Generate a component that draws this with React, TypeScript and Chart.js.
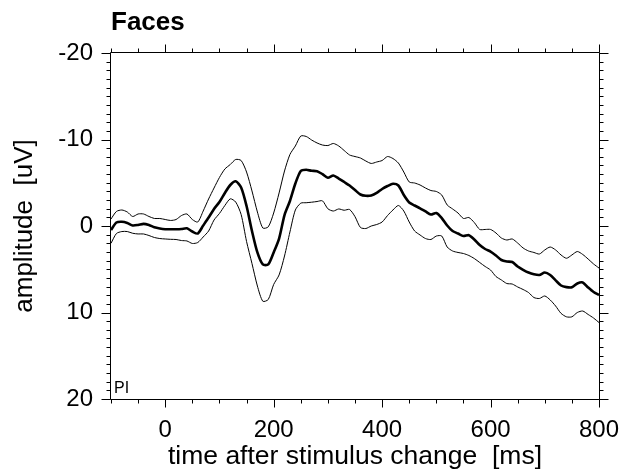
import React, { useEffect, useRef } from "react";
import { Chart, registerables } from "chart.js";

Chart.register(...registerables);

// time after stimulus change [ms]
const times = [
  -100, -90, -80, -70, -60, -50, -40, -30, -20, -10,
  0, 10, 20, 30, 40, 50, 60, 70, 80, 90,
  100, 110, 120, 130, 140, 150, 160, 170, 180, 190,
  200, 210, 220, 230, 240, 250, 260, 270, 280, 290,
  300, 310, 320, 330, 340, 350, 360, 370, 380, 390,
  400, 410, 420, 430, 440, 450, 460, 470, 480, 490,
  500, 510, 520, 530, 540, 550, 560, 570, 580, 590,
  600, 610, 620, 630, 640, 650, 660, 670, 680, 690,
  700, 710, 720, 730, 740, 750, 760, 770, 780, 790,
  800,
];

// grand mean amplitude [uV]
const meanValues = [
  0.46, -0.4, -0.49, -0.35, -0.06, -0.12, -0.25, -0.12, 0.15, 0.29,
  0.37, 0.38, 0.38, 0.35, 0.27, 0.64, 0.87, -0.05, -0.98, -1.97,
  -2.77, -3.82, -4.74, -5.17, -4.45, -2.31, 0.58, 3.06, 4.45, 4.45,
  3.06, 1.45, -1.27, -2.89, -4.91, -6.36, -6.5, -6.38, -6.34, -6.0,
  -5.58, -5.84, -5.49, -5.09, -4.68, -4.16, -3.64, -3.49, -3.53, -3.82,
  -4.28, -4.62, -4.88, -4.68, -3.58, -2.72, -2.37, -2.05, -1.68, -1.33,
  -1.5, -0.92, -0.06, 0.58, 0.87, 1.16, 1.06, 1.56, 2.2, 2.66,
  2.95, 3.41, 3.93, 4.1, 4.16, 4.68, 5.06, 5.38, 5.58, 5.66,
  5.38, 5.66, 6.28, 6.88, 7.07, 7.09, 6.65, 6.53, 7.11, 7.63,
  7.98,
];

// upper (more negative) confidence bound [uV]
const upperValues = [
  -0.81, -1.68, -1.85, -1.62, -1.1, -1.39, -1.39, -1.1, -0.87, -0.87,
  -0.75, -0.64, -0.75, -1.21, -1.39, -0.75, -0.46, -1.73, -3.12, -4.39,
  -5.61, -6.59, -7.11, -7.69, -7.57, -6.24, -4.05, -1.62, 0.23, 0.1,
  -1.5, -3.82, -6.36, -8.27, -9.25, -10.4, -10.35, -9.94, -9.6, -9.36,
  -9.3, -9.54, -9.25, -8.73, -8.21, -8.03, -7.86, -7.51, -7.23, -7.4,
  -7.57, -8.03, -7.8, -7.28, -6.24, -5.09, -4.97, -4.74, -4.39, -4.1,
  -3.99, -3.58, -2.43, -1.97, -1.5, -0.87, -0.98, -0.4, 0.4, 0.4,
  0.4, 0.81, 1.39, 1.62, 1.5, 1.97, 2.54, 2.89, 3.06, 3.24,
  2.77, 2.43, 2.77, 3.35, 3.73, 3.35, 2.95, 3.29, 3.82, 4.39,
  4.86,
];

// lower (more positive) confidence bound [uV]
const lowerValues = [
  2.0, 0.87, 0.64, 0.64, 0.84, 0.92, 0.92, 1.1, 1.33, 1.45,
  1.5, 1.54, 1.56, 1.68, 1.73, 2.02, 1.91, 1.27, 0.58, -0.69,
  -1.45, -2.37, -3.14, -2.77, -1.33, 1.79, 4.34, 6.94, 8.7, 8.5,
  6.76, 5.66, 3.47, 0.69, -1.85, -2.64, -2.69, -2.75, -2.83, -2.91,
  -1.99, -1.73, -1.97, -1.82, -1.91, -1.08, 0.17, 0.29, 0.0, -0.17,
  -0.46, -1.21, -1.85, -2.37, -1.73, -0.46, 0.58, 1.04, 1.45, 1.56,
  1.16, 1.16, 2.43, 2.89, 3.06, 3.18, 3.41, 3.76, 4.22, 4.68,
  5.09, 5.84, 6.24, 6.65, 6.71, 7.05, 7.34, 7.69, 8.27, 8.38,
  8.09, 8.55, 9.25, 10.1, 10.5, 10.5, 10.0, 9.83, 10.23, 10.64,
  11.16,
];

const xTickValues = [0, 200, 400, 600, 800];
const yTickValues = [-20, -10, 0, 10, 20];
const xMinorTicks = [
  -100, -50, 0, 50, 100, 150, 200, 250, 300, 350, 400, 450, 500, 550, 600, 650, 700, 750, 800,
];
const yMinorTicks = [
  -20, -19, -18, -17, -16, -15, -14, -13, -12, -11, -10, -9, -8, -7, -6, -5, -4, -3, -2, -1,
  0, 1, 2, 3, 4, 5, 6, 7, 8, 9, 10, 11, 12, 13, 14, 15, 16, 17, 18, 19, 20,
];

const FONT = "Arial, 'Liberation Sans', sans-serif";

const framePlugin = {
  id: "frameTicks",
  afterDraw(chart: any) {
    const { ctx, chartArea: a, scales } = chart;
    const x = scales.x;
    const y = scales.y;
    ctx.save();
    ctx.strokeStyle = "#000";
    ctx.lineWidth = 1;
    ctx.beginPath();
    const L = Math.round(a.left) - 0.5;
    const R = Math.round(a.right) + 0.5;
    const T = Math.round(a.top) - 0.5;
    const B = Math.round(a.bottom) + 0.5;
    ctx.rect(L, T, R - L, B - T);
    const major = 8;
    const minor = 4;
    for (const v of xMinorTicks) {
      const px = Math.round(x.getPixelForValue(v)) + 0.5;
      const len = xTickValues.includes(v) ? major : minor;
      ctx.moveTo(px, B);
      ctx.lineTo(px, B + len);
      ctx.moveTo(px, T);
      ctx.lineTo(px, T - len);
    }
    for (const v of yMinorTicks) {
      const py = Math.round(y.getPixelForValue(v)) + 0.5;
      const len = yTickValues.includes(v) ? major + 1 : minor;
      ctx.moveTo(L, py);
      ctx.lineTo(L - len, py);
      ctx.moveTo(R, py);
      ctx.lineTo(R + len, py);
    }
    ctx.stroke();
    ctx.fillStyle = "#000";
    ctx.font = `16px ${FONT}`;
    ctx.textBaseline = "alphabetic";
    ctx.textAlign = "left";
    ctx.fillText("PI", a.left + 3, a.bottom - 6);
    ctx.restore();
  },
};

export default function App() {
  const ref = useRef<HTMLCanvasElement | null>(null);

  useEffect(() => {
    if (!ref.current) return;
    const toPoints = (vals: number[]) => times.map((t, i) => ({ x: t, y: vals[i] }));
    const chart = new Chart(ref.current, {
      type: "line",
      data: {
        datasets: [
          {
            label: "upper",
            data: toPoints(upperValues),
            borderColor: "#000",
            borderWidth: 1,
            pointRadius: 0,
            tension: 0.25,
            fill: false,
          },
          {
            label: "mean",
            data: toPoints(meanValues),
            borderColor: "#000",
            borderWidth: 2.6,
            pointRadius: 0,
            tension: 0.25,
            fill: false,
          },
          {
            label: "lower",
            data: toPoints(lowerValues),
            borderColor: "#000",
            borderWidth: 1,
            pointRadius: 0,
            tension: 0.25,
            fill: false,
          },
        ],
      },
      options: {
        responsive: false,
        animation: false,
        layout: { padding: { left: 0, right: 24, top: 0, bottom: 0 } },
        plugins: {
          legend: { display: false },
          tooltip: { enabled: false },
          title: {
            display: true,
            text: "Faces",
            align: "start",
            fullSize: false,
            color: "#000",
            font: { family: FONT, size: 26, weight: "bold" },
            padding: { top: 7, bottom: 14.8 },
          },
        },
        scales: {
          x: {
            type: "linear",
            min: -100,
            max: 800,
            afterBuildTicks: (scale: any) => {
              scale.ticks = xTickValues.map((v) => ({ value: v }));
            },
            afterFit: (scale: any) => {
              scale.height = 74;
              scale.paddingLeft = 0;
              scale.paddingRight = 0;
            },
            grid: { display: false, drawTicks: false },
            border: { display: false },
            ticks: {
              color: "#000",
              padding: 17,
              maxRotation: 0,
              font: { family: FONT, size: 24 },
              callback: (v: any) => String(v),
            },
            title: {
              display: true,
              text: "time after stimulus change  [ms]",
              color: "#000",
              font: { family: FONT, size: 26.5 },
              padding: { top: 0, bottom: 0 },
            },
          },
          y: {
            type: "linear",
            reverse: true,
            min: -20,
            max: 20,
            afterBuildTicks: (scale: any) => {
              scale.ticks = yTickValues.map((v) => ({ value: v }));
            },
            afterFit: (scale: any) => {
              scale.width = 111;
              scale.paddingTop = 0;
              scale.paddingBottom = 0;
            },
            grid: { display: false, drawTicks: false },
            border: { display: false },
            ticks: {
              color: "#000",
              padding: 18,
              font: { family: FONT, size: 24 },
              callback: (v: any) => String(v),
            },
            title: {
              display: true,
              text: "amplitude  [uV]",
              color: "#000",
              font: { family: FONT, size: 26 },
              padding: { top: 9, bottom: 0 },
            },
          },
        },
      },
      plugins: [framePlugin],
    });
    return () => chart.destroy();
  }, []);

  return (
    <div style={{ position: "absolute", left: 0, top: 0, width: 623, height: 473, background: "#fff" }}>
      <canvas ref={ref} width={623} height={473} style={{ width: 623, height: 473, display: "block" }} />
    </div>
  );
}
